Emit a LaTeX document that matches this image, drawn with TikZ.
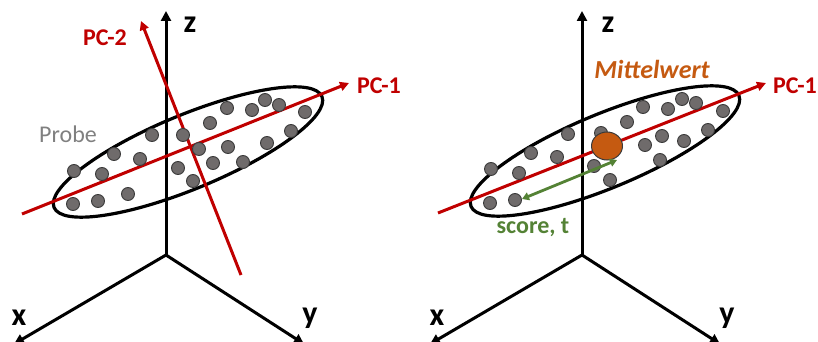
\documentclass[tikz,border=0pt]{standalone}
\usepackage{fontspec}
\setmainfont{Carlito}
\usetikzlibrary{arrows.meta,shapes.geometric}
\definecolor{pcred}{HTML}{C00000}
\definecolor{dotgray}{HTML}{6F6B6B}
\definecolor{dotedge}{HTML}{3A3A3A}
\definecolor{probegray}{HTML}{808080}
\definecolor{meanorange}{HTML}{C55A11}
\definecolor{scoregreen}{HTML}{548235}
\tikzset{
  axisline/.style={line width=3pt, black, -{Triangle[length=10pt,width=10pt]}},
  pcline/.style={line width=3pt, pcred, -{Triangle[length=9pt,width=9pt]}},
  cloud/.style={line width=3.2pt, black},
  dot/.style={circle, fill=dotgray, draw=dotedge, line width=0.9pt, minimum size=13pt, inner sep=0pt},
  axislabel/.style={font=\fontsize{32}{36}\selectfont\bfseries, inner sep=0pt},
  pclabel/.style={font=\fontsize{24}{28}\selectfont\bfseries, text=pcred, inner sep=0pt},
  scorearrow/.style={line width=2.8pt, scoregreen, {Triangle[length=7pt,width=8pt]}-{Triangle[length=7pt,width=8pt]}},
}
\begin{document}
\begin{tikzpicture}[x=1pt,y=-1pt]
\useasboundingbox (0,0) rectangle (818,342);

% ---------------- left panel ----------------
\coordinate (O1) at (166,255);
\coordinate (Z1) at (166,11);
\coordinate (X1) at (14,344);
\coordinate (Y1) at (304,344);
\draw[axisline] (O1) -- (Z1);
\draw[axisline] (O1) -- (X1);
\draw[axisline] (O1) -- (Y1);
\node[axislabel] (zl1) at (190,25) {z};
\node[axislabel] (xl1) at (19,318) {x};
\node[axislabel] (yl1) at (310,318) {y};

\draw[cloud, rotate around={22.5:(188,152)}] (188,152) ellipse [x radius=145pt, y radius=37pt];

\coordinate (P1s) at (22,214);
\coordinate (P1e) at (349,83);
\coordinate (P2s) at (241,275);
\coordinate (P2e) at (141,21);
\draw[pcline] (P1s) -- (P1e);
\draw[pcline] (P2s) -- (P2e);

\foreach \px/\py [count=\i] in {74/171,102/174,114/154,140/159,152/135,183/135,210/123,227/108,252/110,265/100,279/105,305/112,291/131,267/143,228/147,199/149,178/168,213/163,243/162,193/181,128/194,98/201,73/204}
  \node[dot] (L\i) at (\px,\py) {};

\node[pclabel, anchor=west] (pc1l) at (357,86) {PC-1};
\node[pclabel] (pc2l) at (105,38) {PC-2};
\node[font=\fontsize{24}{28}\selectfont, text=probegray, inner sep=0pt] (probe) at (68,134) {Probe};

% ---------------- right panel ----------------
\coordinate (O2) at (582,255);
\coordinate (Z2) at (582,11);
\coordinate (X2) at (430,344);
\coordinate (Y2) at (720,344);
\draw[axisline] (O2) -- (Z2);
\draw[axisline] (O2) -- (X2);
\draw[axisline] (O2) -- (Y2);
\node[axislabel] (zl2) at (608,25) {z};
\node[axislabel] (xl2) at (437,318) {x};
\node[axislabel] (yl2) at (727,318) {y};

\draw[cloud, rotate around={22.5:(605,151)}] (605,151) ellipse [x radius=145pt, y radius=37pt];

\coordinate (Q1s) at (438,213);
\coordinate (Q1e) at (766,83);
\draw[pcline] (Q1s) -- (Q1e);

\foreach \px/\py [count=\i] in {491/169,519/173,531/153,557/157,568/134,601/133,627/122,643/107,668/109,682/99,696/103,723/111,708/130,684/141,662/136,645/145,594/166,610/180,660/160,515/200,490/203}
  \node[dot] (R\i) at (\px,\py) {};

\node[ellipse, fill=meanorange, draw=dotedge, line width=1pt, minimum width=31pt, minimum height=28pt, inner sep=0pt] (mean) at (607,146) {};

\coordinate (S1) at (522,199);
\coordinate (S2) at (617,160);
\draw[scorearrow] (S1) -- (S2);

\node[pclabel, anchor=west] (pc1r) at (773,86) {PC-1};
\node[font=\fontsize{26}{30}\selectfont\bfseries\itshape, text=meanorange, inner sep=0pt] (mw) at (652,69) {Mittelwert};
\node[font=\fontsize{24}{28}\selectfont\bfseries, text=scoregreen, inner sep=0pt] (score) at (533,228) {score, t};
\end{tikzpicture}
\end{document}
